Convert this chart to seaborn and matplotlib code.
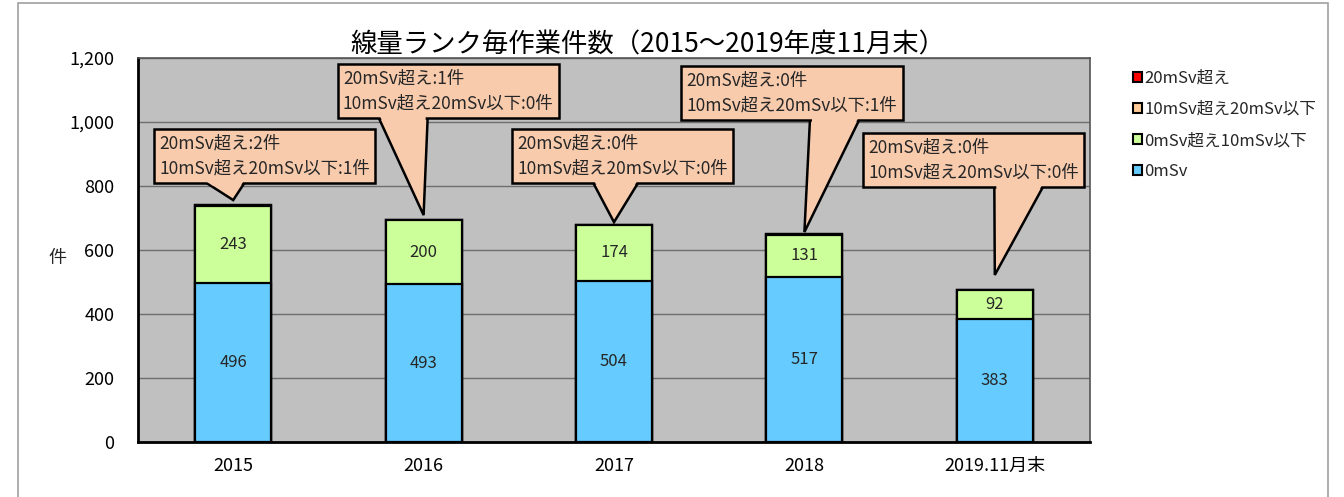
import numpy as np
import pandas as pd
import matplotlib
matplotlib.use("Agg")
import matplotlib.pyplot as plt
import seaborn as sns
from matplotlib.patches import Patch, Rectangle, Polygon
from matplotlib.transforms import IdentityTransform
from matplotlib.ticker import StrMethodFormatter, FixedLocator

# データ
years = ["2015", "2016", "2017", "2018", "2019.11月末"]
zero_msv = [496, 493, 504, 517, 383]        # 0mSv
low_msv = [243, 200, 174, 131, 92]          # 0mSv超え10mSv以下
mid_msv = [1, 0, 0, 1, 0]                   # 10mSv超え20mSv以下
high_msv = [2, 1, 0, 0, 0]                  # 20mSv超え

series_names = ["20mSv超え", "10mSv超え20mSv以下", "0mSv超え10mSv以下", "0mSv"]
title = "線量ランク毎作業件数（2015～2019年度11月末）"

col_zero = "#66CCFF"
col_low = "#CCFF99"
col_mid = "#FFCC99"
col_high = "#FF0000"
col_callout = "#F8CBAD"

sns.set_theme(style="white")
plt.rcParams["font.family"] = ["Noto Sans CJK JP", "DejaVu Sans"]

df = pd.DataFrame({"year": years, "zero": zero_msv, "low": low_msv,
                   "mid": mid_msv, "high": high_msv})
df["c1"] = df["zero"]
df["c2"] = df["c1"] + df["low"]
df["c3"] = df["c2"] + df["mid"]
df["c4"] = df["c3"] + df["high"]

fig = plt.figure(figsize=(13.44, 4.97), dpi=100)
ax = fig.add_axes([138 / 1344, 1 - 442 / 497, 952 / 1344, 384 / 497])
ax.set_facecolor("#C0C0C0")

# 積み上げ（大きい順に重ねて描く）
for col, c in [("c4", col_high), ("c3", col_mid), ("c2", col_low), ("c1", col_zero)]:
    sns.barplot(data=df, x="year", y=col, color=c, width=0.4, saturation=1,
                edgecolor="black", linewidth=1.6, ax=ax, zorder=3)

ax.set_ylim(0, 1200)
ax.set_xlim(-0.5, 4.5)
ax.yaxis.set_major_locator(FixedLocator(np.arange(0, 1201, 200)))
ax.yaxis.set_major_formatter(StrMethodFormatter("{x:,.0f}"))
ax.grid(axis="y", color="#6E6E6E", linewidth=1.0, zorder=0)
ax.set_axisbelow(True)
ax.tick_params(axis="y", length=0, labelsize=13, pad=17, colors="black")
ax.tick_params(axis="x", length=0, labelsize=13, pad=11, colors="black")
ax.xaxis.set_minor_locator(FixedLocator(np.arange(0.5, 4.5, 1)))
ax.tick_params(axis="x", which="minor", direction="in", length=5, width=1.5, color="black")
for s in ["left", "bottom"]:
    ax.spines[s].set_color("black")
    ax.spines[s].set_linewidth(2)
for s in ["top", "right"]:
    ax.spines[s].set_color("#555555")
    ax.spines[s].set_linewidth(1.2)

ax.set_xlabel("")
ax.set_ylabel("件", rotation=0, fontsize=13, va="center", ha="center")
ax.yaxis.set_label_coords(-0.085, 0.479)
ax.set_title(title, fontsize=19, pad=4, color="black", x=0.536)

# 数値ラベル
for i in range(len(years)):
    ax.text(i, zero_msv[i] / 2, str(zero_msv[i]), ha="center", va="center",
            fontsize=12, zorder=5)
    ax.text(i, zero_msv[i] + low_msv[i] / 2, str(low_msv[i]), ha="center",
            va="center", fontsize=12, zorder=5)

# 吹き出し
box_pos = [(0.133, 0.745), (0.326, 0.914), (0.509, 0.745), (0.687, 0.909), (0.878, 0.734)]
box_rel = [0.31, 0.29, 0.47, 0.70, 0.71]
tip_gap = [14, 15, 9, 7, 47]
base_w = 52
texts = []
for i in range(len(years)):
    txt = f"20mSv超え:{high_msv[i]}件\n10mSv超え20mSv以下:{mid_msv[i]}件"
    t = ax.text(box_pos[i][0], box_pos[i][1], txt, transform=ax.transAxes,
                ha="center", va="center", fontsize=12.5, linespacing=1.5,
                multialignment="left", zorder=7,
                bbox=dict(boxstyle="square,pad=0.3", fc=col_callout,
                          ec="black", lw=1.8))
    texts.append(t)

fig.canvas.draw()
renderer = fig.canvas.get_renderer()
for i, t in enumerate(texts):
    bb = t.get_bbox_patch().get_window_extent(renderer)
    bx = bb.x0 + box_rel[i] * bb.width
    xl, xr = bx - base_w / 2, bx + base_w / 2
    ytop = bb.y0 + 6
    tx, ty = ax.transData.transform((i, df["c4"][i] + tip_gap[i]))
    ax.add_patch(Polygon([(xl, ytop), (tx, ty), (xr, ytop)], closed=True,
                         transform=IdentityTransform(), fc=col_callout,
                         ec="black", lw=1.8, zorder=6, clip_on=False))
    # 枠線の切れ目
    def edge_x(x0, y):
        return x0 + (tx - x0) * (ytop - y) / (ytop - ty)
    y1, y2 = bb.y0 + 3, bb.y0 - 3
    ax.add_patch(Polygon([(edge_x(xl, y1) + 2, y1), (edge_x(xr, y1) - 2, y1),
                          (edge_x(xr, y2) - 2, y2), (edge_x(xl, y2) + 2, y2)],
                         closed=True, transform=IdentityTransform(),
                         fc=col_callout, ec="none", zorder=8, clip_on=False))

# 凡例
colors = [col_high, col_mid, col_low, col_zero]
handles = [Patch(facecolor=c, edgecolor="black", linewidth=1.5) for c in colors]
fig.legend(handles, series_names, loc="upper left", bbox_to_anchor=(1126 / 1344, 1 - 63 / 497),
           frameon=False, fontsize=12, handlelength=0.55, handleheight=0.55,
           handletextpad=0.15, labelspacing=0.85, borderaxespad=0)

# 外枠
fig.patches.append(Rectangle((18 / 1344, -0.02), 1310 / 1344, 1.02 - 2.5 / 497,
                             transform=fig.transFigure, fill=False,
                             edgecolor="#A0A0A0", linewidth=1.2))

fig.savefig("out.png", dpi=100)
